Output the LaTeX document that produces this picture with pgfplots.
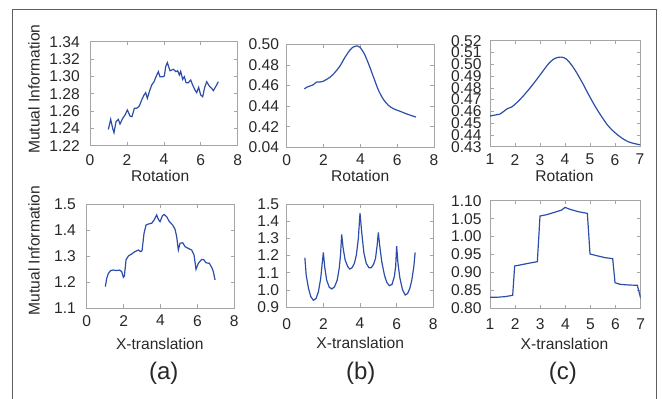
\documentclass[border=0pt]{standalone}
\usepackage{pgfplots}
\pgfplotsset{compat=1.18}
\usepackage{fontspec}
\setmainfont{Liberation Sans}
\definecolor{axgray}{RGB}{165,165,165}
\definecolor{framegray}{RGB}{95,95,95}
\definecolor{linecol}{RGB}{45,78,168}
\definecolor{txt}{RGB}{40,40,40}
\pgfplotsset{panel/.style={scale only axis, anchor=south west,
  axis line style={draw=axgray,line width=0.8pt},
  tick style={draw=axgray,line width=0.6pt}, major tick length=3.5pt, tick align=inside,
  ticklabel style={font=\fontsize{15.6}{16}\selectfont, text=txt, inner sep=0pt},
  /pgf/number format/assume math mode=true},
  curve/.style={line width=1.2pt, color=linecol, mark=none}}
\begin{document}
\begin{tikzpicture}
\useasboundingbox (0pt,0pt) rectangle (662pt,399pt);
\draw[framegray, line width=1pt] (12.5pt,0pt) -- (12.5pt,389.5pt) -- (656.7pt,389.5pt) -- (656.7pt,0pt);

% Panel 1
\begin{axis}[panel, at={(90pt,253.3pt)}, width=147.7pt, height=104pt,
  xmin=0, xmax=8, ymin=1.22, ymax=1.34,
  xtick={0,2,4,6,8}, xticklabels={0,2,4,6,8},
  ytick={1.22,1.24,1.26,1.28,1.30,1.32,1.34}, yticklabels={1.22,1.24,1.26,1.28,1.30,1.32,1.34},
  xticklabel style={yshift=-8.3pt}, yticklabel style={xshift=-10pt}]
\addplot[curve] coordinates {(0.993,1.2388)(1.120,1.2504)(1.228,1.2400)(1.300,1.2350)(1.409,1.2477)(1.535,1.2504)(1.625,1.2450)(1.770,1.2515)(1.896,1.2554)(2.023,1.2612)(2.167,1.2542)(2.275,1.2535)(2.402,1.2631)(2.528,1.2631)(2.673,1.2658)(2.799,1.2727)(2.926,1.2785)(3.016,1.2812)(3.106,1.2746)(3.214,1.2823)(3.341,1.2900)(3.467,1.2938)(3.576,1.2996)(3.702,1.3054)(3.792,1.2996)(3.937,1.2996)(4.027,1.3004)(4.099,1.3112)(4.190,1.3158)(4.334,1.3065)(4.424,1.3073)(4.515,1.3081)(4.659,1.3054)(4.749,1.3065)(4.840,1.3015)(4.912,1.3058)(5.020,1.2965)(5.111,1.2996)(5.201,1.2927)(5.327,1.2927)(5.454,1.2958)(5.562,1.2900)(5.688,1.2842)(5.779,1.2812)(5.887,1.2873)(5.995,1.2785)(6.104,1.2765)(6.212,1.2873)(6.321,1.2938)(6.465,1.2888)(6.591,1.2862)(6.682,1.2835)(6.826,1.2888)(6.953,1.2938)};
\end{axis}

% Panel 2
\begin{axis}[panel, at={(286.7pt,251.7pt)}, width=147.3pt, height=103pt,
  xmin=0, xmax=8, ymin=0.40, ymax=0.50,
  xtick={0,2,4,6,8}, xticklabels={0,2,4,6,8},
  ytick={0.40,0.42,0.44,0.46,0.48,0.50}, yticklabels={0.04,0.42,0.44,0.46,0.48,0.50},
  xticklabel style={yshift=-6.7pt}, yticklabel style={xshift=-7.4pt}]
\addplot[curve, smooth, tension=0.5] coordinates {(0.959,0.4566)(1.086,0.4583)(1.267,0.4595)(1.448,0.4608)(1.629,0.4634)(1.810,0.4634)(1.991,0.4641)(2.172,0.4660)(2.353,0.4680)(2.624,0.4728)(2.896,0.4790)(3.167,0.4874)(3.439,0.4945)(3.620,0.4974)(3.837,0.4984)(3.982,0.4971)(4.199,0.4913)(4.434,0.4816)(4.706,0.4686)(4.977,0.4557)(5.249,0.4466)(5.520,0.4408)(5.792,0.4375)(6.154,0.4350)(6.516,0.4324)(6.787,0.4307)(7.023,0.4294)};
\end{axis}

% Panel 3
\begin{axis}[panel, at={(490pt,252.3pt)}, width=150pt, height=106pt,
  xmin=1, xmax=7, ymin=0.43, ymax=0.52,
  xtick={1,2,3,4,5,6,7}, xticklabels={1,2,3,4,5,6,7},
  ytick={0.43,0.44,0.45,0.46,0.47,0.48,0.49,0.50,0.51,0.52}, yticklabels={0.43,0.44,0.45,0.46,0.47,0.48,0.49,0.50,0.51,0.52},
  xticklabel style={yshift=-7.3pt}, yticklabel style={xshift=-8.3pt}]
\addplot[curve, smooth, tension=0.5] coordinates {(1.0,0.4560)(1.2,0.4569)(1.4,0.4577)(1.533,0.4597)(1.693,0.4623)(1.867,0.4637)(2.04,0.4668)(2.267,0.4716)(2.533,0.4781)(2.8,0.4852)(3.067,0.4928)(3.333,0.5002)(3.533,0.5042)(3.733,0.5059)(3.907,0.5059)(4.067,0.5042)(4.267,0.4993)(4.467,0.4928)(4.707,0.4838)(4.933,0.4747)(5.2,0.4645)(5.467,0.4555)(5.733,0.4475)(6.0,0.4419)(6.267,0.4374)(6.533,0.4342)(6.8,0.4325)(7.0,0.4317)};
\end{axis}

% Panel 4
\begin{axis}[panel, at={(86.7pt,91pt)}, width=147.6pt, height=104pt,
  xmin=0, xmax=8, ymin=1.1, ymax=1.5,
  xtick={0,2,4,6,8}, xticklabels={0,2,4,6,8},
  ytick={1.1,1.2,1.3,1.4,1.5}, yticklabels={1.1,1.2,1.3,1.4,1.5},
  xticklabel style={yshift=-7pt}, yticklabel style={xshift=-10.7pt}]
\addplot[curve] coordinates {(1.012,1.182)(1.084,1.214)(1.174,1.233)(1.301,1.244)(1.445,1.246)(1.626,1.244)(1.771,1.246)(1.897,1.240)(1.987,1.218)(2.042,1.223)(2.132,1.285)(2.258,1.300)(2.439,1.308)(2.620,1.317)(2.800,1.323)(2.927,1.317)(2.999,1.320)(3.107,1.387)(3.216,1.419)(3.342,1.423)(3.523,1.426)(3.649,1.438)(3.794,1.458)(3.884,1.441)(3.975,1.432)(4.101,1.454)(4.191,1.460)(4.336,1.451)(4.481,1.432)(4.661,1.419)(4.788,1.403)(4.878,1.374)(4.968,1.323)(5.059,1.349)(5.203,1.351)(5.330,1.336)(5.510,1.329)(5.691,1.323)(5.817,1.304)(5.926,1.249)(6.052,1.272)(6.233,1.287)(6.359,1.285)(6.468,1.274)(6.649,1.272)(6.775,1.256)(6.865,1.240)(6.956,1.208)};
\end{axis}

% Panel 5
\begin{axis}[panel, at={(286.7pt,92pt)}, width=146.6pt, height=103pt,
  xmin=0, xmax=8, ymin=0.9, ymax=1.5,
  xtick={0,2,4,6,8}, xticklabels={0,2,4,6,8},
  ytick={0.9,1.0,1.1,1.2,1.3,1.4,1.5}, yticklabels={0.9,1.0,1.1,1.2,1.3,1.4,1.5},
  xticklabel style={yshift=-11pt}, yticklabel style={xshift=-7.4pt}]
\addplot[curve] coordinates {(0.991,1.187)(1.063,1.086)(1.189,1.009)(1.315,0.960)(1.459,0.939)(1.604,0.950)(1.730,0.989)(1.856,1.067)(1.928,1.145)(2.0,1.218)(2.072,1.135)(2.180,1.057)(2.324,1.015)(2.468,1.005)(2.613,1.018)(2.757,1.057)(2.865,1.125)(2.937,1.203)(3.0,1.323)(3.081,1.242)(3.189,1.174)(3.333,1.135)(3.441,1.121)(3.568,1.129)(3.694,1.154)(3.802,1.203)(3.910,1.300)(4.0,1.446)(4.108,1.319)(4.216,1.213)(4.342,1.154)(4.486,1.129)(4.613,1.129)(4.739,1.149)(4.847,1.183)(4.937,1.261)(5.0,1.335)(5.081,1.252)(5.189,1.164)(5.333,1.086)(5.459,1.044)(5.604,1.024)(5.748,1.032)(5.874,1.077)(5.946,1.135)(6.0,1.255)(6.072,1.154)(6.180,1.067)(6.324,0.999)(6.468,0.970)(6.595,0.978)(6.721,1.009)(6.829,1.057)(6.937,1.135)(7.009,1.218)};
\end{axis}

% Panel 6
\begin{axis}[panel, at={(490pt,90.7pt)}, width=150.7pt, height=107.6pt,
  xmin=1, xmax=7, ymin=0.80, ymax=1.10,
  xtick={1,2,3,4,5,6,7}, xticklabels={1,2,3,4,5,6,7},
  ytick={0.80,0.85,0.90,0.95,1.00,1.05,1.10}, yticklabels={0.80,0.85,0.90,0.95,1.00,1.05,1.10},
  xticklabel style={yshift=-10pt}, yticklabel style={xshift=-8.3pt}]
\addplot[curve] coordinates {(1.0,0.8307)(1.265,0.8307)(1.597,0.8325)(1.903,0.8362)(1.982,0.9180)(2.195,0.9207)(2.527,0.9254)(2.885,0.9300)(2.991,1.0573)(3.257,1.0610)(3.522,1.0666)(3.854,1.0740)(3.987,1.0814)(4.186,1.0759)(4.518,1.0693)(4.876,1.0647)(4.982,0.9514)(5.248,0.9467)(5.580,0.9412)(5.885,0.9384)(5.978,0.8715)(6.177,0.8669)(6.509,0.8650)(6.867,0.8641)(7.0,0.8279)};
\end{axis}

\begin{scope}[every node/.style={text=txt, inner sep=0pt, font=\fontsize{15.6}{16}\selectfont}]
\node[rotate=90] at (34pt,309.8pt) {Mutual Information};
\node[rotate=90] at (34pt,148.3pt) {Mutual Information};
\node[anchor=base] at (160.2pt,217.3pt) {Rotation};
\node[anchor=base] at (360.2pt,217.3pt) {Rotation};
\node[anchor=base] at (564.5pt,217.3pt) {Rotation};
\node[anchor=base] at (159.8pt,49.7pt) {X-translation};
\node[anchor=base] at (360.2pt,50.7pt) {X-translation};
\node[anchor=base] at (564.5pt,49.7pt) {X-translation};
\node[anchor=base, font=\fontsize{24}{26}\selectfont] at (163.7pt,19pt) {(a)};
\node[anchor=base, font=\fontsize{24}{26}\selectfont] at (360.8pt,19pt) {(b)};
\node[anchor=base, font=\fontsize{24}{26}\selectfont] at (562.8pt,19pt) {(c)};
\end{scope}
\end{tikzpicture}
\end{document}
